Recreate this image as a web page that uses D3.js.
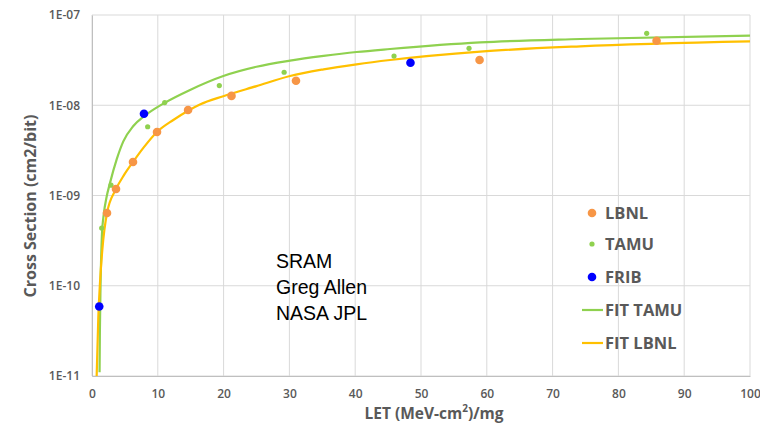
<!DOCTYPE html>
<html><head><meta charset="utf-8">
<script src="https://cdn.jsdelivr.net/npm/d3@7"></script>
<style>body{margin:0;background:#fff}svg{display:block}</style>
</head><body>
<svg id="c" width="760" height="429"></svg>
<script>
const xTicks = [0,10,20,30,40,50,60,70,80,90,100];
const yTicks = [1e-11,1e-10,1e-9,1e-8,1e-7];
const lbnlX = [2.28,3.65,6.23,9.88,14.6,21.2,31.0,58.9,85.8];
const lbnlY = [6.4e-10,1.18e-9,2.35e-9,5.06e-9,8.86e-9,1.27e-8,1.87e-8,3.17e-8,5.19e-8];
const tamuX = [1.47,2.89,8.46,11.05,19.35,29.2,45.9,57.3,84.3];
const tamuY = [4.36e-10,1.30e-9,5.78e-9,1.07e-8,1.65e-8,2.32e-8,3.51e-8,4.27e-8,6.27e-8];
const fribX = [1.1,7.9,48.4];
const fribY = [5.9e-11,8.06e-9,2.96e-8];
const fitTamuX = [1.15,1.2,1.3,1.5,1.8,2.2,2.74,3.75,4.76,6.28,7.95,11.1,14.9,19.96,25.0,30.1,35.2,40.2,45.3,59.0,74.2,100];
const fitTamuY = [1.1e-11,3.2e-11,1e-10,3.55e-10,6.3e-10,9.5e-10,1.38e-9,2.51e-9,3.98e-9,5.89e-9,7.59e-9,1.07e-8,1.48e-8,2.11e-8,2.67e-8,3.12e-8,3.52e-8,3.89e-8,4.2e-8,4.97e-8,5.42e-8,5.9e-8];
const fitLbnlX = [0.71,0.96,1.22,1.57,2.28,3.65,4.9,6.23,7.8,9.88,12.36,14.6,16.4,19.96,25.0,30.1,35.2,40.2,45.3,59.0,74.2,100];
const fitLbnlY = [1e-11,4.47e-11,1.1e-10,2.51e-10,6.4e-10,1.18e-9,1.7e-9,2.35e-9,3.37e-9,5.06e-9,6.87e-9,8.7e-9,1.02e-8,1.26e-8,1.63e-8,2.11e-8,2.50e-8,2.84e-8,3.17e-8,3.93e-8,4.5e-8,5.1e-8];
const noteLines = ["SRAM","Greg Allen","NASA JPL"];
const legendLabels = ["LBNL","TAMU","FRIB","FIT TAMU","FIT LBNL"];

const svg = d3.select("#c");
const L=92,R=750,T=15,B=376;
const x = d3.scaleLinear().domain([0,100]).range([L,R]);
const y = d3.scaleLog().domain([1e-11,1e-7]).range([B,T]);
const grey="#595959", grid="#d9d9d9";
const font="'Open Sans', Lato, sans-serif";
const fmt = d => "1E-" + String(Math.round(-Math.log10(d))).padStart(2,"0");

// gridlines
svg.append("g").selectAll("line").data(xTicks).join("line")
  .attr("x1",d=>x(d)).attr("x2",d=>x(d)).attr("y1",T).attr("y2",B)
  .attr("stroke",grid).attr("stroke-width",1);
svg.append("g").selectAll("line").data(yTicks).join("line")
  .attr("x1",L).attr("x2",R).attr("y1",d=>y(d)).attr("y2",d=>y(d))
  .attr("stroke",grid).attr("stroke-width",1);

// axes
const xa = svg.append("g").attr("transform",`translate(0,${B})`)
  .call(d3.axisBottom(x).tickValues(xTicks).tickSize(0).tickPadding(13).tickFormat(d3.format("d")));
const ya = svg.append("g").attr("transform",`translate(${L},0)`)
  .call(d3.axisLeft(y).tickValues(yTicks).tickSize(0).tickPadding(12).tickFormat(fmt));
[xa,ya].forEach(a=>{
  a.select(".domain").attr("stroke","#bfbfbf");
  a.selectAll("text").attr("fill",grey).attr("font-family",font).attr("font-weight","600").attr("font-size","12px");
});

// curves
const line = d3.line().x(d=>x(d[0])).y(d=>y(d[1])).curve(d3.curveMonotoneX);
svg.append("clipPath").attr("id","clip").append("rect").attr("x",L).attr("y",T).attr("width",R-L).attr("height",B-T);
const cg = svg.append("g").attr("clip-path","url(#clip)");
cg.append("path").datum(d3.zip(fitTamuX,fitTamuY)).attr("d",line)
  .attr("fill","none").attr("stroke","#8fd14f").attr("stroke-width",2.2);
cg.append("path").datum(d3.zip(fitLbnlX,fitLbnlY)).attr("d",line)
  .attr("fill","none").attr("stroke","#ffc000").attr("stroke-width",2.2);

// points
svg.append("g").selectAll("circle").data(d3.zip(tamuX,tamuY)).join("circle")
  .attr("cx",d=>x(d[0])).attr("cy",d=>y(d[1])).attr("r",2.6).attr("fill","#8fd14f");
svg.append("g").selectAll("circle").data(d3.zip(lbnlX,lbnlY)).join("circle")
  .attr("cx",d=>x(d[0])).attr("cy",d=>y(d[1])).attr("r",4.3).attr("fill","#f79646");
svg.append("g").selectAll("circle").data(d3.zip(fribX,fribY)).join("circle")
  .attr("cx",d=>x(d[0])).attr("cy",d=>y(d[1])).attr("r",4.3).attr("fill","#0000ff");

// axis titles
svg.append("text").attr("x",434).attr("y",419).attr("text-anchor","middle")
  .attr("fill",grey).attr("font-family",font).attr("font-weight","bold").attr("font-size","15.5px")
  .html('LET (MeV-cm<tspan baseline-shift="super" font-size="10px">2</tspan>)/mg');
svg.append("text").attr("transform","translate(36,206) rotate(-90)").attr("text-anchor","middle")
  .attr("fill",grey).attr("font-family",font).attr("font-weight","bold").attr("font-size","16px")
  .text("Cross Section (cm2/bit)");

// note
svg.append("g").selectAll("text").data(noteLines).join("text")
  .attr("x",276).attr("y",(d,i)=>268+i*26).attr("fill","#000")
  .attr("font-family","'Liberation Sans', Arial, sans-serif").attr("font-size","19.5px").text(d=>d);

// legend
const lg = svg.append("g");
const rowsY=[213,244,277,310,343];
const mk=[{c:"#f79646",r:4.3},{c:"#8fd14f",r:2.6},{c:"#0000ff",r:4.3}];
legendLabels.forEach((t,i)=>{
  if(i<3){
    lg.append("circle").attr("cx",592).attr("cy",rowsY[i]).attr("r",mk[i].r).attr("fill",mk[i].c);
  } else {
    lg.append("line").attr("x1",582).attr("x2",603).attr("y1",rowsY[i]).attr("y2",rowsY[i])
      .attr("stroke",i===3?"#8fd14f":"#ffc000").attr("stroke-width",2.2);
  }
  lg.append("text").attr("x",605).attr("y",rowsY[i]+6).attr("fill",grey)
    .attr("font-family",font).attr("font-weight","bold").attr("font-size","16.5px").text(t);
});
</script>
</body></html>
